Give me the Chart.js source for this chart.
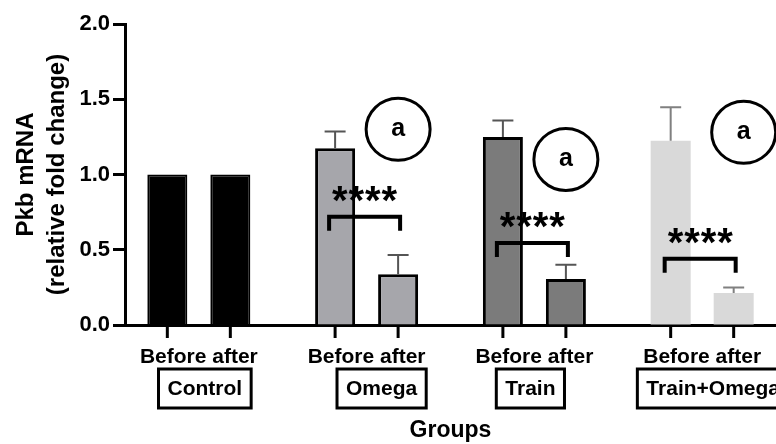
<!DOCTYPE html>
<html>
<head>
<meta charset="utf-8">
<script src="https://cdn.jsdelivr.net/npm/chart.js@4.4.0/dist/chart.umd.min.js"></script>
<style>
html, body { margin: 0; padding: 0; background: #fff; overflow: hidden; }
#wrap { width: 776px; height: 444px; }
</style>
</head>
<body>
<div id="wrap"><canvas id="c"></canvas></div>
<script>
// values
const groups = ['Control', 'Omega', 'Train', 'Train+Omega'];
const beforeVals = [1.0, 1.175, 1.25, 1.225];
const afterVals = [1.0, 0.337, 0.305, 0.213];
const beforeErr = [0, 0.11, 0.108, 0.222];
const afterErr = [0, 0.128, 0.095, 0.037];
const sigLevel = [null, 0.72, 0.545, 0.44];     // height of the **** brackets
const letterLevel = [null, 1.30, 1.10, 1.28];   // height of the circled "a"
const yTicks = [0, 0.5, 1.0, 1.5, 2.0];

// look
const FONT = 'Liberation Sans, Arial, sans-serif';
const fills = ['#000000', '#a6a6ab', '#7b7b7b', '#d9d9d9'];
const borders = ['#000000', '#000000', '#000000', '#d9d9d9'];
const borderW = [2, 3, 3, 0];
const circleShift = [0, 0, 0, 10];
const boxShift = [6, 15, -4, 11];

// extra drawing: tick marks, error bars, brackets, circles, group boxes
const extras = {
	id: 'extras',
	afterDatasetsDraw(chart) {
		const ctx = chart.ctx;
		const ys = chart.scales.y, xs = chart.scales.x;
		const area = chart.chartArea;
		const mb = chart.getDatasetMeta(0).data;
		const ma = chart.getDatasetMeta(1).data;
		ctx.save();

		//error bars
		[[mb, beforeErr, beforeVals], [ma, afterErr, afterVals]].forEach(function (set) {
			set[0].forEach(function (bar, i) {
				if (!set[1][i]) return;
				const top = ys.getPixelForValue(set[2][i] + set[1][i]);
				ctx.strokeStyle = i == 3 ? '#808080' : '#555';
				ctx.lineWidth = 2;
				ctx.beginPath();
				ctx.moveTo(bar.x, bar.y);
				ctx.lineTo(bar.x, top);
				ctx.moveTo(bar.x - 10.5, top);
				ctx.lineTo(bar.x + 10.5, top);
				ctx.stroke();
			});
		});

		//tick marks under every bar
		ctx.strokeStyle = '#000';
		ctx.lineWidth = 3;
		mb.concat(ma).forEach(function (bar) {
			ctx.beginPath();
			ctx.moveTo(bar.x, area.bottom);
			ctx.lineTo(bar.x, area.bottom + 13);
			ctx.stroke();
		});

		//brackets with stars
		groups.forEach(function (g, i) {
			if (sigLevel[i] == null) return;
			const y = ys.getPixelForValue(sigLevel[i]);
			const x1 = mb[i].x - 6, x2 = ma[i].x + 2;
			ctx.strokeStyle = '#000';
			ctx.lineWidth = 4;
			ctx.beginPath();
			ctx.moveTo(x1, y + 14);
			ctx.lineTo(x1, y);
			ctx.lineTo(x2, y);
			ctx.lineTo(x2, y + 14);
			ctx.stroke();
			ctx.fillStyle = '#000';
			ctx.font = 'bold 40px ' + FONT;
			ctx.textAlign = 'center';
			ctx.textBaseline = 'alphabetic';
			const cx = (x1 + x2) / 2;
			for (let k = 0; k < 4; k++) {
				ctx.fillText('*', cx + (k - 1.5) * 16.5, y - 3);
			}
		});

		//circled letters
		groups.forEach(function (g, i) {
			if (letterLevel[i] == null) return;
			const y = ys.getPixelForValue(letterLevel[i]);
			const x = ma[i].x + circleShift[i];
			ctx.strokeStyle = '#000';
			ctx.lineWidth = 3;
			ctx.beginPath();
			ctx.ellipse(x, y, 32, 31, 0, 0, Math.PI * 2);
			ctx.stroke();
			ctx.fillStyle = '#000';
			ctx.font = 'bold 25px ' + FONT;
			ctx.textAlign = 'center';
			ctx.textBaseline = 'middle';
			ctx.fillText('a', x, y);
		});

		//group names in boxes
		ctx.font = 'bold 21px ' + FONT;
		ctx.textAlign = 'center';
		ctx.textBaseline = 'middle';
		groups.forEach(function (g, i) {
			const cx = xs.getPixelForValue(i) + boxShift[i];
			const w = ctx.measureText(g).width + 18;
			ctx.strokeStyle = '#000';
			ctx.lineWidth = 3;
			ctx.strokeRect(cx - w / 2, 369, w, 39);
			ctx.fillStyle = '#000';
			ctx.fillText(g, cx, 389);
		});
		ctx.restore();
	}
};

new Chart(document.getElementById('c'), {
	type: 'bar',
	data: {
		datasets: [
			{
				label: 'Before',
				data: beforeVals.map(function (v, i) { return {x: i, y: v}; }),
				backgroundColor: fills,
				borderColor: borders,
				borderWidth: borderW
			},
			{
				label: 'after',
				data: afterVals.map(function (v, i) { return {x: i, y: v}; }),
				backgroundColor: fills,
				borderColor: borders,
				borderWidth: borderW
			}
		]
	},
	options: {
		responsive: true,
		maintainAspectRatio: false,
		animation: false,
		categoryPercentage: 0.751,
		barPercentage: 0.635,
		layout: {padding: {top: 24, right: 0, left: 0, bottom: 0}},
		plugins: {legend: {display: false}, tooltip: {enabled: false}},
		scales: {
			x: {
				type: 'linear',
				offset: false,
				min: -0.44,
				max: 3.44,
				afterBuildTicks: function (s) { s.ticks = groups.map(function (g, i) { return {value: i}; }); },
				afterFit: function (s) { s.height = 119; },
				grid: {display: false},
				border: {color: '#000', width: 3},
				ticks: {
					callback: function () { return 'Before after'; },
					font: {family: FONT, size: 21, weight: 'bold'},
					color: '#000',
					padding: 12,
					maxRotation: 0,
					autoSkip: false
				},
				title: {
					display: true,
					text: 'Groups',
					font: {family: FONT, size: 23, weight: 'bold'},
					color: '#000',
					padding: {top: 0, bottom: 0}
				}
			},
			y: {
				min: 0,
				max: 2,
				afterBuildTicks: function (s) { s.ticks = yTicks.map(function (v) { return {value: v}; }); },
				afterFit: function (s) { s.width = 125; },
				grid: {drawOnChartArea: false, tickLength: 12, tickWidth: 3, tickColor: '#000'},
				border: {color: '#000', width: 3},
				ticks: {
					callback: function (v) { return v.toFixed(1); },
					font: {family: FONT, size: 22, weight: 'bold'},
					color: '#000',
					padding: 3
				},
				title: {
					display: true,
					text: ['Pkb mRNA', '(relative fold change)'],
					font: {family: FONT, size: 24, weight: 'bold', lineHeight: 1.3},
					color: '#000',
					padding: {top: 11, bottom: 0}
				}
			}
		}
	},
	plugins: [extras]
});
</script>
</body>
</html>
